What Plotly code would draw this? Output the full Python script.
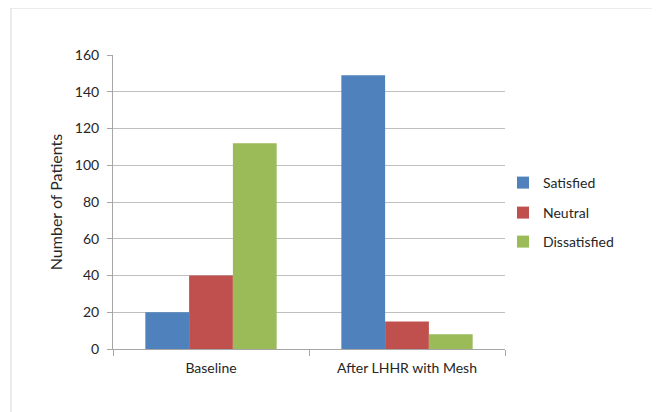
import plotly.graph_objects as go

categories = ["Baseline", "After LHHR with Mesh"]
series_names = ["Satisfied", "Neutral", "Dissatisfied"]
satisfied = [20, 149]
neutral = [40, 15]
dissatisfied = [112, 8]
colors = ["#4F81BD", "#C0504D", "#9BBB59"]
y_ticks = [0, 20, 40, 60, 80, 100, 120, 140, 160]

OFF = 8  # page body margin
W, H = 660 - OFF, 412 - OFF
L, R, T, B = 113 - OFF, 155, 55 - OFF, 63
pw, ph = W - L - R, H - T - B
FONT = "Lato"
TXT = "#262626"

def px2x(px):
    return (px - OFF - L) / pw

def py2y(py):
    return (H - B - (py - OFF)) / ph

fig = go.Figure()
legends = ["legend", "legend2", "legend3"]
for name, vals, col, lg in zip(series_names, [satisfied, neutral, dissatisfied], colors, legends):
    fig.add_trace(go.Bar(name=name, x=categories, y=vals, marker=dict(color=col, line=dict(width=0)), legend=lg))

leg_ys = [183, 213, 242]
leg_common = dict(x=px2x(503), xanchor="left", yanchor="middle", bgcolor="rgba(0,0,0,0)",
                  font=dict(family=FONT, size=14, color=TXT), itemwidth=30)
layout_legends = {}
for lg, ly in zip(legends, leg_ys):
    layout_legends[lg] = dict(leg_common, y=py2y(ly))

fig.update_layout(
    width=W, height=H,
    margin=dict(l=L, r=R, t=T, b=B),
    paper_bgcolor="white", plot_bgcolor="white",
    barmode="group", bargap=0.33, bargroupgap=0,
    showlegend=True,
    font=dict(family=FONT, size=14, color=TXT),
    xaxis=dict(showline=True, linecolor="#a6a6a6", linewidth=1, ticks="outside", ticklen=6,
               tickcolor="#a6a6a6", tickson="boundaries", showgrid=False, ticklabelstandoff=6,
               tickfont=dict(family=FONT, size=14, color=TXT)),
    yaxis=dict(range=[0, 160], tickvals=y_ticks, showline=True, linecolor="#a6a6a6", linewidth=1,
               ticks="outside", ticklen=5, tickcolor="#a6a6a6", gridcolor="#bfbfbf", gridwidth=1,
               zeroline=False, tickfont=dict(family=FONT, size=14, color=TXT), ticklabelstandoff=5,
               title=dict(text="Number of Patients", font=dict(family=FONT, size=16, color=TXT), standoff=8)),
    shapes=[dict(type="rect", xref="paper", yref="paper",
                 x0=px2x(11), x1=px2x(657), y0=py2y(413), y1=py2y(8),
                 line=dict(color="#d9d9d9", width=1), fillcolor="rgba(0,0,0,0)", layer="below")],
    **layout_legends,
)

fig.write_html("out.html")
